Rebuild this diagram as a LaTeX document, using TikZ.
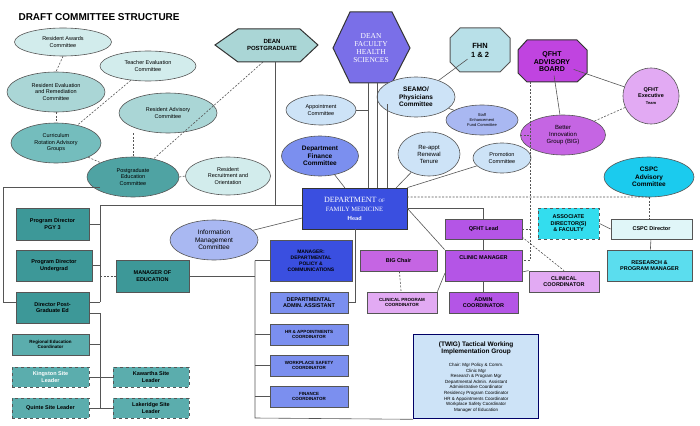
\documentclass[tikz,border=0pt]{standalone}
\usepackage{fontspec}
\setmainfont{Liberation Sans}
\newfontfamily\serifft{Liberation Serif}
\usetikzlibrary{shapes.geometric}
\definecolor{tealL}{HTML}{D2ECEC}
\definecolor{tealM}{HTML}{AAD6D6}
\definecolor{tealC}{HTML}{74BDBD}
\definecolor{tealD}{HTML}{4FA3A3}
\definecolor{bteal}{HTML}{3D9898}
\definecolor{bteal2}{HTML}{5BADAD}
\definecolor{blueL}{HTML}{CDE3F7}
\definecolor{blueM}{HTML}{A9B8F2}
\definecolor{blueD}{HTML}{7B8FEF}
\definecolor{blueDD}{HTML}{3A4FE0}
\definecolor{purp}{HTML}{B455E6}
\definecolor{purpL}{HTML}{E2AAF3}
\definecolor{purpB}{HTML}{C565E3}
\definecolor{purpA}{HTML}{C044E0}
\definecolor{cyanA}{HTML}{1BCBEE}
\definecolor{cyanB}{HTML}{5BDDEE}
\definecolor{cyanC}{HTML}{33DDEE}
\definecolor{cspcd}{HTML}{E0F6F8}
\definecolor{deanF}{HTML}{7A6FE8}
\definecolor{fhnc}{HTML}{B8E0E8}
\definecolor{lnc}{HTML}{555555}
\tikzset{
 ell/.style={ellipse,draw=lnc,line width=0.6pt,inner sep=0pt,align=center,font=\fontsize{5.5}{6.5}\selectfont},
 bx/.style={rectangle,draw=lnc,line width=0.8pt,inner sep=0pt,align=center,font=\bfseries\fontsize{5.5}{6.5}\selectfont},
 ln/.style={draw=lnc,line width=0.6pt},
 dl/.style={draw=lnc,line width=0.6pt,dash pattern=on 2pt off 1.5pt},
 poly/.style={draw=black!80,line width=1pt},
}
\begin{document}
\begin{tikzpicture}[x=1pt,y=-1pt]
\useasboundingbox (0,0) rectangle (700,425);
\node[anchor=west,font=\bfseries\fontsize{10}{12}\selectfont] (title) at (15,17) {DRAFT COMMITTEE STRUCTURE};
% polygons
\filldraw[poly,fill=tealM] (215,45)--(238,29)--(300,29)--(318,45)--(300,62)--(238,62)--cycle;
\node[font=\bfseries\fontsize{6}{7}\selectfont,align=center] (deanpg) at (272,45) {DEAN\\POSTGRADUATE};
\filldraw[poly,fill=deanF] (333,48)--(350,12)--(392,12)--(410,48)--(392,83)--(350,83)--cycle;
\node[font=\serifft\fontsize{7.5}{8}\selectfont,text=white,align=center] (deanfhs) at (371,48) {DEAN\\FACULTY\\HEALTH\\SCIENCES};
\filldraw[poly,fill=fhnc,draw=lnc] (450,38)--(460,28)--(500,28)--(510,38)--(510,62)--(500,72)--(460,72)--(450,62)--cycle;
\node[font=\bfseries\fontsize{7.5}{9}\selectfont,align=center] (fhn) at (480,50) {FHN\\1 \& 2};
\filldraw[poly,fill=purpA] (518,50)--(527,40)--(577,40)--(587,50)--(587,73)--(577,82)--(527,82)--(518,73)--cycle;
\node[font=\bfseries\fontsize{7}{7.5}\selectfont,align=center] (qab) at (552,62) {QFHT\\ADVISORY\\BOARD};
% ellipses teal
\node[ell,fill=tealL,minimum width=97,minimum height=28] (awards) at (63,42) {Resident Awards\\Committee};
\node[ell,fill=tealL,minimum width=96,minimum height=30] (teach) at (148,66) {Teacher Evaluation\\Committee};
\node[ell,fill=tealM,minimum width=98,minimum height=40] (reval) at (56,92) {Resident Evaluation\\and Remediation\\Committee};
\node[ell,fill=tealM,minimum width=98,minimum height=40] (radv) at (168,113) {Resident Advisory\\Committee};
\node[ell,fill=tealC,minimum width=90,minimum height=40] (curr) at (56,143) {Curriculum\\Rotation Advisory\\Groups};
\node[ell,fill=tealD,minimum width=92,minimum height=40] (pgec) at (133,177) {Postgraduate\\Education\\Committee};
\node[ell,fill=tealL,minimum width=85,minimum height=38] (recr) at (228,176) {Resident\\Recruitment and\\Orientation};
% blue ellipses
\node[ell,fill=blueL,minimum width=70,minimum height=30] (appt) at (321,110) {Appointment\\Committee};
\node[ell,fill=blueD,minimum width=77,minimum height=40,font=\bfseries\fontsize{6.5}{7.5}\selectfont] (fin) at (320,156) {Department\\Finance\\Committee};
\node[ell,fill=blueL,minimum width=78,minimum height=40,font=\bfseries\fontsize{6.5}{7.5}\selectfont] (seamo) at (416,97) {SEAMO/\\Physicians\\Committee};
\node[ell,fill=blueM,minimum width=72,minimum height=30,font=\fontsize{4}{5}\selectfont] (staff) at (482,120) {Staff\\Enhancement\\Fund Committee};
\node[ell,fill=blueL,minimum width=62,minimum height=44,font=\fontsize{6}{7}\selectfont] (reappt) at (429,154) {Re-appt\\Renewal\\Tenure};
\node[ell,fill=blueL,minimum width=58,minimum height=30] (promo) at (502,158) {Promotion\\Committee};
\node[ell,fill=blueM,minimum width=88,minimum height=40,font=\fontsize{6.5}{7.5}\selectfont] (info) at (214,240) {Information\\Management\\Committee};
% purple/cyan ellipses
\node[circle,draw=lnc,line width=0.6pt,fill=purpL,minimum size=56,inner sep=0pt,align=center,font=\bfseries\fontsize{5.5}{6.5}\selectfont] (qexec) at (651,96) {QFHT\\Executive\\{\fontsize{4}{5}\selectfont Team}};
\node[ell,fill=purpB,minimum width=85,minimum height=40,font=\fontsize{6}{7}\selectfont] (big) at (563,135) {Better\\Innovation\\Group (BIG)};
\node[ell,fill=cyanA,minimum width=90,minimum height=40,font=\bfseries\fontsize{6.5}{7.5}\selectfont] (cspca) at (649,177) {CSPC\\Advisory\\Committee};
% DFM
\node[bx,fill=blueDD,minimum width=105,minimum height=41,font=\serifft\fontsize{8}{9}\selectfont,text=white,draw=black!80] (dfm) at (354.5,208.5) {DEPARTMENT {\fontsize{5}{6}\selectfont OF}\\{\fontsize{6.5}{8}\selectfont FAMILY MEDICINE}\\{\sffamily\bfseries\fontsize{6}{7}\selectfont Head}};
% left teal boxes
\node[bx,fill=bteal,minimum width=73,minimum height=32] (pgy) at (52.5,224) {Program Director\\PGY 3};
\node[bx,fill=bteal,minimum width=76,minimum height=31] (ug) at (54,265.5) {Program Director\\Undergrad};
\node[bx,fill=bteal,minimum width=73,minimum height=31] (dpg) at (52.5,307.5) {Director Post-\\Graduate Ed};
\node[bx,fill=bteal2,minimum width=77,minimum height=21,font=\bfseries\fontsize{4.5}{5.5}\selectfont] (reg) at (50.5,344.5) {Regional Education\\Coordinator};
\node[bx,fill=bteal2,dashed,minimum width=77,minimum height=20,text=white] (king) at (50.5,377) {Kingston Site\\Leader};
\node[bx,fill=bteal2,dashed,minimum width=77,minimum height=20] (quin) at (50.5,408) {Quinte Site Leader};
\node[bx,fill=bteal2,dashed,minimum width=76,minimum height=20] (kaw) at (151,377) {Kawartha Site\\Leader};
\node[bx,fill=bteal2,dashed,minimum width=76,minimum height=20] (lake) at (151,408) {Lakeridge Site\\Leader};
\node[bx,fill=bteal,minimum width=73,minimum height=32] (moe) at (152.5,276) {MANAGER OF\\EDUCATION};
% blue column
\node[bx,fill=blueDD,minimum width=82,minimum height=41,font=\bfseries\fontsize{5}{6}\selectfont] (mgr) at (311,260.5) {MANAGER:\\DEPARTMENTAL\\POLICY \&\\COMMUNICATIONS};
\node[bx,fill=blueD,minimum width=78,minimum height=21] (adm) at (309,302.5) {DEPARTMENTAL\\ADMIN. ASSISTANT};
\node[bx,fill=blueD,minimum width=78,minimum height=21,font=\bfseries\fontsize{4.5}{5.5}\selectfont] (hr) at (309,334.5) {HR \& APPOINTMENTS\\COORDINATOR};
\node[bx,fill=blueD,minimum width=78,minimum height=21,font=\bfseries\fontsize{4.5}{5.5}\selectfont] (ws) at (309,365.5) {WORKPLACE SAFETY\\COORDINATOR};
\node[bx,fill=blueD,minimum width=78,minimum height=21,font=\bfseries\fontsize{4.5}{5.5}\selectfont] (fc) at (309,396.5) {FINANCE\\COORDINATOR};
% purple boxes
\node[bx,fill=purp,minimum width=77,minimum height=20] (ql) at (483.5,229) {QFHT Lead};
\node[bx,fill=purp,minimum width=77,minimum height=31] (cm) at (483.5,265.5) {};
\node[font=\bfseries\fontsize{5.5}{6.5}\selectfont,anchor=north] (cmt) at ([yshift=-3pt]cm.north) {CLINIC MANAGER};
\node[bx,fill=purpB,minimum width=77,minimum height=21] (bigc) at (398.5,260.5) {BIG Chair};
\node[bx,fill=purpL,minimum width=70,minimum height=21,font=\bfseries\fontsize{4.5}{5.5}\selectfont] (cpc) at (402,302.5) {CLINICAL PROGRAM\\COORDINATOR};
\node[bx,fill=purp,minimum width=69,minimum height=21] (ac) at (483.5,302.5) {ADMIN\\COORDINATOR};
\node[bx,fill=purpL,minimum width=70,minimum height=21] (cc) at (564,281.5) {CLINICAL\\COORDINATOR};
\node[bx,fill=cyanC,dashed,minimum width=61,minimum height=31] (assoc) at (568.5,223.5) {ASSOCIATE\\DIRECTOR(S)\\\& FACULTY};
\node[bx,fill=cspcd,minimum width=81,minimum height=20] (cspcd) at (651.5,229) {CSPC Director};
\node[bx,fill=cyanB,minimum width=85,minimum height=31] (rpm) at (649.5,265.5) {RESEARCH \&\\PROGRAM MANAGER};
% TWIG
\node[rectangle,draw=blue!40!black,line width=1.3pt,fill=blueL,minimum width=125,minimum height=84,anchor=north west,inner sep=0pt] (twig) at (413,334) {};
\node[anchor=north,align=center,font=\bfseries\fontsize{6.5}{7.5}\selectfont] (twigt) at ([yshift=-4pt]twig.north) {(TWIG) Tactical Working\\Implementation Group};
\node[anchor=north,align=center,font=\fontsize{4.5}{5.6}\selectfont] (twigb) at ([yshift=-1pt]twigt.south) {Chair: Mgr Policy \& Comm.\\Clinic Mgr\\Research \& Program Mgr\\Departmental Admin. Assistant\\Administrative Coordinator\\Residency Program Coordinator\\HR \& Appointments Coordinator\\Workplace Safety Coordinator\\Manager of Education};
% dotted teal connections
\draw[dl] (awards.south) -- (reval.north);
\draw[dl] (reval.south) -- (curr.north);
\draw[dl] (teach) -- (curr);
\draw[dl] (radv.south -| pgec.north) -- (pgec.north);
\draw[dl] (curr) -- (pgec);
\coordinate (dp1) at (263,62);
\draw[dl] (dp1) -- (pgec);
\draw[dl] (pgec.east) -- (recr.west);
% left loop
\coordinate (pl) at (100,187);
\draw[ln] (pl) -- (3,187) -- (3,302) -- (16,302);
% Dean PG to DFM
\coordinate (dpb) at (275,62);
\draw[ln] (dpb) -- (275,205) -- (100,205) -- (100,302);
\draw[ln] (275,205) -- (302,205);
\draw[ln] (pgy.east) -- (100,224);
\draw[ln] (ug.east) -- (100,265.5);
\draw[ln] (89,302) -- (100,302);
\draw[dl] (100,276) -- (moe.west);
\draw[ln] (89,313) -- (100,313) -- (100,408);
\draw[ln] (reg.east) -- (100,344.5);
\draw[ln] (king.east) -- (kaw.west);
\draw[ln] (quin.east) -- (lake.west);
% manager of education to blue column
\draw[ln] (moe.east) -- (255,276);
\draw[ln] (255,260.5) -- (255,418) -- (twig.south west);
\draw[ln] (255,260.5) -- (mgr.west);
\draw[ln] (255,334.5) -- (hr.west);
\draw[ln] (255,365.5) -- (ws.west);
\draw[ln] (255,396.5) -- (fc.west);
\draw[ln] (355,229) -- (355,302) -- (348,302);
\draw[ln] (302,218) -- (info);
% Dean FHS and committees
\draw[ln] (368,83) -- (368,188);
\draw[ln] (377,83) -- (377,188);
\draw[ln] (387,104) -- (387,188);
\draw[ln] (appt.east) -- (368,110);
\draw[ln] (fin) -- (345,188);
\draw[ln] (reappt) -- (396,188);
\draw[ln] (promo) -- (dfm.north east);
\draw[ln] (fhn) -- (seamo);
\draw[ln] (seamo) -- (staff);
% QFHT
\draw[ln] (qab) -- (big);
\draw[ln] (qab) -- (qexec);
\draw[dl] (qexec) -- (big);
\draw[dl] (530,82) -- (530,260) -- (522,260);
\draw[dl] (ql.east) -- (530,229);
\draw[dl] (big.west) -- (530,135);
\draw[dl] (407,197) -- (646,197) -- (cspca.south);
\draw[dl] (cspca.south) -- (cspcd.north -| cspca.south);
\coordinate (dq) at (407,208);
\draw[ln] (dq) -- (483.5,208) -- (ql.north);
\draw[ln] (dq) -- (cm.north west);
\draw[ln] (ql) -- (cm);
\draw[ln] (cm.south) -- (ac.north);
\draw[ln] (445,273) -- (cpc.north east);
\draw[ln] (522,272) -- (cc.north west);
\draw[dl] (522,237) -- (cc.north);
\draw[dl] (bigc) -- (cpc);
\draw[ln] (assoc.east) -- (cspcd.west);
\draw[ln] (cspcd) -- (rpm);
\end{tikzpicture}
\end{document}
